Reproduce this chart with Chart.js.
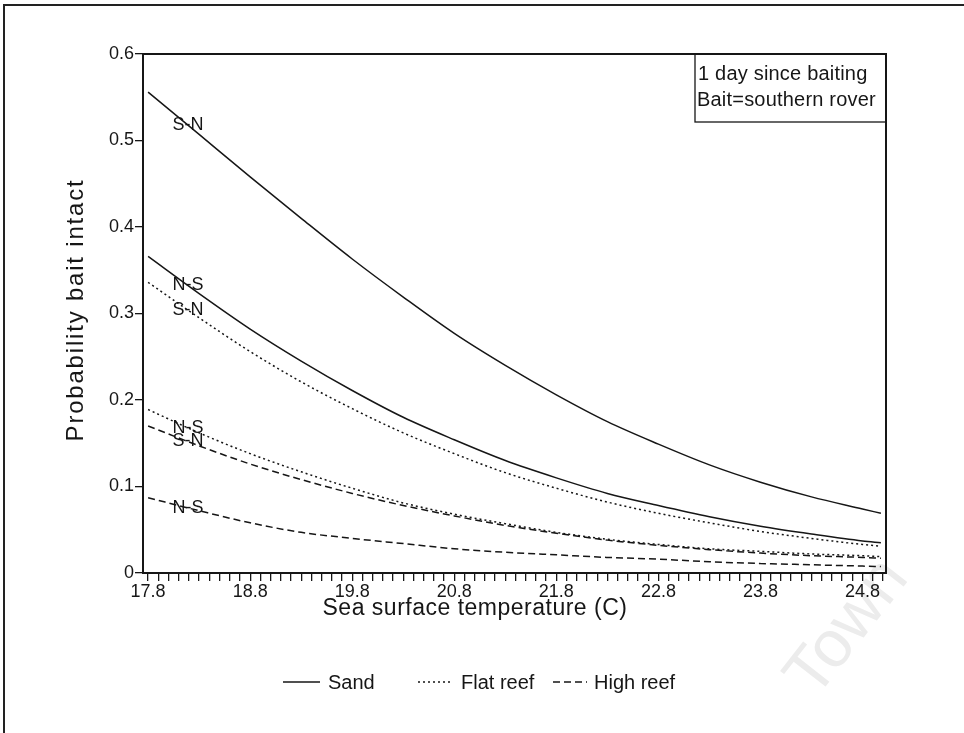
<!DOCTYPE html>
<html>
<head>
<meta charset="utf-8">
<script src="https://cdn.jsdelivr.net/npm/chart.js@4.4.1/dist/chart.umd.min.js"></script>
<style>
  html, body { margin: 0; padding: 0; background: #fff; }
  #wrap { position: relative; width: 964px; height: 733px; }
</style>
</head>
<body>
<div id="wrap"><canvas id="baitChart" width="964" height="733"></canvas></div>
<script>
// Temperaturas (C) donde se evalúan las curvas
const temps = [17.8, 18.3, 18.8, 19.3, 19.8, 20.3, 20.8, 21.3, 21.8, 22.3, 22.8, 23.3, 23.8, 24.3, 24.8, 24.98];

// Probabilidad de que el cebo siga intacto, por hábitat y dirección
const sandSN = [0.556, 0.507, 0.458, 0.410, 0.363, 0.319, 0.277, 0.240, 0.206, 0.175, 0.149, 0.125, 0.105, 0.088, 0.074, 0.069];
const sandNS = [0.366, 0.323, 0.282, 0.245, 0.211, 0.180, 0.154, 0.130, 0.110, 0.092, 0.078, 0.065, 0.054, 0.045, 0.037, 0.035];
const flatSN = [0.336, 0.295, 0.256, 0.221, 0.190, 0.162, 0.138, 0.116, 0.098, 0.082, 0.069, 0.058, 0.048, 0.040, 0.033, 0.031];
const flatNS = [0.189, 0.162, 0.138, 0.117, 0.098, 0.081, 0.068, 0.057, 0.047, 0.039, 0.033, 0.028, 0.025, 0.022, 0.020, 0.019];
const highSN = [0.170, 0.147, 0.126, 0.108, 0.092, 0.078, 0.066, 0.055, 0.046, 0.038, 0.032, 0.027, 0.023, 0.020, 0.018, 0.017];
const highNS = [0.087, 0.072, 0.058, 0.047, 0.040, 0.034, 0.028, 0.024, 0.021, 0.018, 0.016, 0.013, 0.011, 0.0095, 0.008, 0.0075];

// Etiquetas de dirección junto a cada curva
const curveTags = ['S-N', 'N-S', 'S-N', 'N-S', 'S-N', 'N-S'];

const legendNames = ['Sand', 'Flat reef', 'High reef'];
const boxLines = ['1 day since baiting', 'Bait=southern rover'];
const xTitle = 'Sea surface temperature (C)';
const yTitle = 'Probability bait intact';

const INK = '#161616';
const FONT = '"Liberation Sans", Arial, sans-serif';

const pts = arr => temps.map((t, i) => ({ x: t, y: arr[i] }));

function serie(arr, dash) {
    return {
        data: pts(arr),
        borderColor: INK,
        borderWidth: 1.5,
        borderDash: dash,
        pointRadius: 0,
        fill: false,
        cubicInterpolationMode: 'monotone'
    };
}

// Marco, títulos, leyenda y recuadro de texto
const extras = {
    id: 'extras',
    beforeDraw(chart) {
        const ctx = chart.ctx;
        ctx.save();
        // marca de agua
        ctx.translate(848, 628);
        ctx.rotate(-52 * Math.PI / 180);
        ctx.fillStyle = '#ececec';
        ctx.font = '66px ' + FONT;
        ctx.textAlign = 'center';
        ctx.textBaseline = 'middle';
        ctx.fillText('Town', 0, 0);
        ctx.restore();

        // marco exterior de la figura
        ctx.save();
        ctx.strokeStyle = '#222';
        ctx.lineWidth = 2;
        ctx.beginPath();
        ctx.moveTo(4, 740);
        ctx.lineTo(4, 5);
        ctx.lineTo(970, 5);
        ctx.stroke();
        ctx.restore();
    },
    afterDraw(chart) {
        const ctx = chart.ctx;
        const a = chart.chartArea;
        const xs = chart.scales.x;
        ctx.save();
        ctx.strokeStyle = INK;
        ctx.fillStyle = INK;

        // caja del área de trazado
        ctx.lineWidth = 2;
        ctx.strokeRect(a.left, a.top, a.right - a.left, a.bottom - a.top);

        // etiquetas S-N / N-S sobre las curvas
        ctx.font = '18px ' + FONT;
        ctx.textAlign = 'center';
        ctx.textBaseline = 'middle';
        const tagX = xs.getPixelForValue(18.19);
        chart.data.datasets.forEach((ds, i) => {
            const p0 = chart.getDatasetMeta(i).data[0];
            const p1 = chart.getDatasetMeta(i).data[1];
            const f = (tagX - p0.x) / (p1.x - p0.x);
            ctx.fillText(curveTags[i], tagX, p0.y + f * (p1.y - p0.y));
        });

        // recuadro con las condiciones
        ctx.lineWidth = 1.3;
        ctx.strokeRect(695, a.top, a.right - 695, 68);
        ctx.font = '20px ' + FONT;
        ctx.letterSpacing = '0.2px';
        ctx.textAlign = 'left';
        ctx.textBaseline = 'alphabetic';
        ctx.fillText(boxLines[0], 698, 80);
        ctx.fillText(boxLines[1], 697, 106);

        // título del eje x
        ctx.font = '23px ' + FONT;
        ctx.letterSpacing = '0.5px';
        ctx.textAlign = 'center';
        ctx.textBaseline = 'middle';
        ctx.fillText(xTitle, 475, 609);

        // título del eje y
        ctx.save();
        ctx.translate(76, 310);
        ctx.rotate(-Math.PI / 2);
        ctx.font = '24px ' + FONT;
        ctx.letterSpacing = '1.8px';
        ctx.fillText(yTitle, 0, 0);
        ctx.restore();

        // leyenda
        const ly = 682;
        const items = [
            { x0: 283, x1: 320, tx: 328, dash: [] },
            { x0: 418, x1: 452, tx: 461, dash: [2, 3] },
            { x0: 553, x1: 587, tx: 594, dash: [7, 4] }
        ];
        ctx.font = '20px ' + FONT;
        ctx.letterSpacing = '0px';
        ctx.textAlign = 'left';
        items.forEach((it, i) => {
            ctx.lineWidth = 1.5;
            ctx.setLineDash(it.dash);
            ctx.beginPath();
            ctx.moveTo(it.x0, ly);
            ctx.lineTo(it.x1, ly);
            ctx.stroke();
            ctx.setLineDash([]);
            ctx.fillText(legendNames[i], it.tx, ly + 1);
        });
        ctx.restore();
    }
};

new Chart(document.getElementById('baitChart'), {
    type: 'line',
    data: {
        datasets: [
            serie(sandSN, []),
            serie(sandNS, []),
            serie(flatSN, [2, 3]),
            serie(flatNS, [2, 3]),
            serie(highSN, [7, 4]),
            serie(highNS, [7, 4])
        ]
    },
    options: {
        responsive: false,
        animation: false,
        events: [],
        layout: { padding: { top: 54, right: 78, left: 0, bottom: 0 } },
        plugins: {
            legend: { display: false },
            tooltip: { enabled: false }
        },
        scales: {
            x: {
                type: 'linear',
                min: 17.75,
                max: 25.03,
                afterFit: s => { s.height = 160; },
                border: { color: INK, width: 2 },
                grid: { drawOnChartArea: false, tickLength: 8, color: INK, lineWidth: 1.3 },
                ticks: {
                    stepSize: 0.1,
                    includeBounds: false,
                    autoSkip: false,
                    maxRotation: 0,
                    padding: 0,
                    color: INK,
                    font: { family: FONT, size: 18 },
                    callback: v => {
                        const d = v - 17.8;
                        return Math.abs(d - Math.round(d)) < 1e-6 ? v.toFixed(1) : '';
                    }
                }
            },
            y: {
                min: 0,
                max: 0.6,
                afterFit: s => { s.width = 143; },
                border: { color: INK, width: 2 },
                grid: { drawOnChartArea: false, tickLength: 8, color: INK, lineWidth: 1.3 },
                ticks: {
                    stepSize: 0.1,
                    padding: 1,
                    color: INK,
                    font: { family: FONT, size: 18 },
                    callback: v => v === 0 ? '0' : v.toFixed(1)
                }
            }
        }
    },
    plugins: [extras]
});
</script>
</body>
</html>
